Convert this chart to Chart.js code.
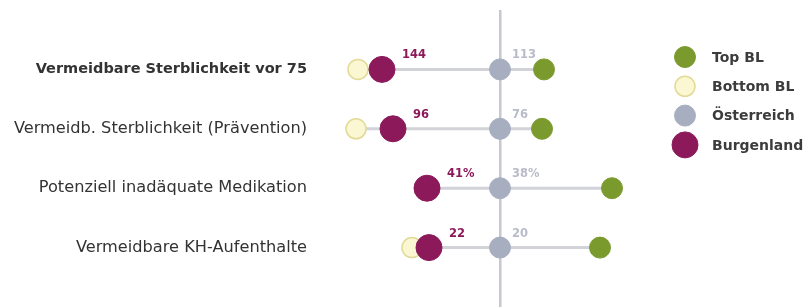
<!DOCTYPE html>
<html>
<head>
<meta charset="utf-8">
<script src="https://cdn.jsdelivr.net/npm/chart.js@4"></script>
<style>
    html, body { margin: 0; padding: 0; background: #fff; }
    #wrap { width: 804px; height: 307px; }
</style>
</head>
<body>
<div id="wrap"><canvas id="dumbbell"></canvas></div>
<script>
// indicators (rows, top to bottom)
const categories = [
    'Vermeidbare Sterblichkeit vor 75',
    'Vermeidb. Sterblichkeit (Prävention)',
    'Potenziell inadäquate Medikation',
    'Vermeidbare KH-Aufenthalte'
];

// position relative to Österreich (= 0)
const topBL = [44, 42, 112, 100];
const bottomBL = [-142, -144, -73, -88];
const oesterreich = [0, 0, 0, 0];
const burgenland = [-118, -107, -73, -71];

// value labels printed next to the points
const burgenlandLabels = ['144', '96', '41%', '22'];
const oesterreichLabels = ['113', '76', '38%', '20'];

const colors = {
    top: '#7b9a2e',
    bottomFill: '#fbf7d2',
    bottomBorder: '#e2da96',
    oe: '#a6aec0',
    bgld: '#8c1a5b',
    line: '#d2d3d9',
    axis: '#c6c8d0',
    text: '#333'
};

function rowPoints(values) {
    return values.map((v, i) => ({ x: v, y: i + 1 }));
}

// one grey connector per row, from the leftmost to the rightmost point
const connectors = categories.map((c, i) => ({
    label: '_line' + i,
    data: [
        { x: Math.min(bottomBL[i], burgenland[i]), y: i + 1 },
        { x: topBL[i], y: i + 1 }
    ],
    showLine: true,
    borderColor: colors.line,
    borderWidth: 3,
    pointRadius: 0,
    order: 10
}));

const valueLabels = {
    id: 'valueLabels',
    afterDatasetsDraw(chart) {
        const ctx = chart.ctx;
        ctx.save();
        ctx.font = 'bold 11.5px "DejaVu Sans"';
        ctx.textBaseline = 'middle';
        ctx.textAlign = 'left';
        chart.getDatasetMeta(3).data.forEach((pt, i) => {
            ctx.fillStyle = colors.bgld;
            ctx.fillText(burgenlandLabels[i], pt.x + 20, pt.y - 14);
        });
        chart.getDatasetMeta(2).data.forEach((pt, i) => {
            ctx.fillStyle = '#b9bcc8';
            ctx.fillText(oesterreichLabels[i], pt.x + 12, pt.y - 14);
        });
        ctx.restore();
    }
};

// legend on the right, circles sized like the points
const sideLegend = {
    id: 'sideLegend',
    afterDraw(chart) {
        const ctx = chart.ctx;
        ctx.save();
        ctx.font = 'bold 14px "DejaVu Sans"';
        ctx.textBaseline = 'middle';
        ctx.textAlign = 'left';
        [0, 1, 2, 3].forEach((idx, i) => {
            const ds = chart.data.datasets[idx];
            const y = 57 + i * 29.3;
            ctx.beginPath();
            ctx.arc(685, y, ds.pointRadius, 0, Math.PI * 2);
            ctx.fillStyle = ds.backgroundColor;
            ctx.fill();
            ctx.lineWidth = ds.borderWidth || 1;
            ctx.strokeStyle = ds.borderColor;
            ctx.stroke();
            ctx.fillStyle = '#3c3c3c';
            ctx.fillText(ds.label, 712, y + 1);
        });
        ctx.restore();
    }
};

const ctx = document.getElementById('dumbbell').getContext('2d');

new Chart(ctx, {
    type: 'scatter',
    data: {
        datasets: [
            {
                label: 'Top BL',
                data: rowPoints(topBL),
                backgroundColor: colors.top,
                borderColor: colors.top,
                pointRadius: 10.5,
                order: 3
            },
            {
                label: 'Bottom BL',
                data: rowPoints(bottomBL),
                backgroundColor: colors.bottomFill,
                borderColor: colors.bottomBorder,
                borderWidth: 1.5,
                pointRadius: 10,
                order: 4
            },
            {
                label: 'Österreich',
                data: rowPoints(oesterreich),
                backgroundColor: colors.oe,
                borderColor: colors.oe,
                pointRadius: 10.5,
                order: 2
            },
            {
                label: 'Burgenland',
                data: rowPoints(burgenland),
                backgroundColor: colors.bgld,
                borderColor: colors.bgld,
                pointRadius: 13,
                order: 1
            },
            ...connectors
        ]
    },
    options: {
        responsive: true,
        maintainAspectRatio: false,
        animation: false,
        layout: {
            autoPadding: false,
            padding: { top: 10, right: 144, bottom: 0, left: 0 }
        },
        plugins: {
            tooltip: { enabled: false },
            legend: { display: false }
        },
        scales: {
            x: {
                type: 'linear',
                min: -180,
                max: 160,
                afterBuildTicks: scale => { scale.ticks = [{ value: 0 }]; },
                ticks: { display: false },
                border: { display: false },
                grid: {
                    drawTicks: false,
                    color: colors.axis,
                    lineWidth: 2.5
                }
            },
            y: {
                type: 'linear',
                reverse: true,
                min: 0,
                max: 5,
                afterBuildTicks: scale => {
                    scale.ticks = categories.map((c, i) => ({ value: i + 1 }));
                },
                afterFit: scale => {
                    scale.width = 320;
                    scale.paddingTop = 0;
                    scale.paddingBottom = 0;
                },
                border: { display: false },
                grid: { display: false, drawTicks: false },
                ticks: {
                    padding: 13,
                    color: colors.text,
                    callback: value => categories[value - 1],
                    font: context => {
                        const bold = context.tick && context.tick.value === 1;
                        return {
                            family: 'DejaVu Sans',
                            size: bold ? 14.5 : 16.2,
                            weight: bold ? 'bold' : 'normal'
                        };
                    }
                }
            }
        }
    },
    plugins: [valueLabels, sideLegend]
});
</script>
</body>
</html>
